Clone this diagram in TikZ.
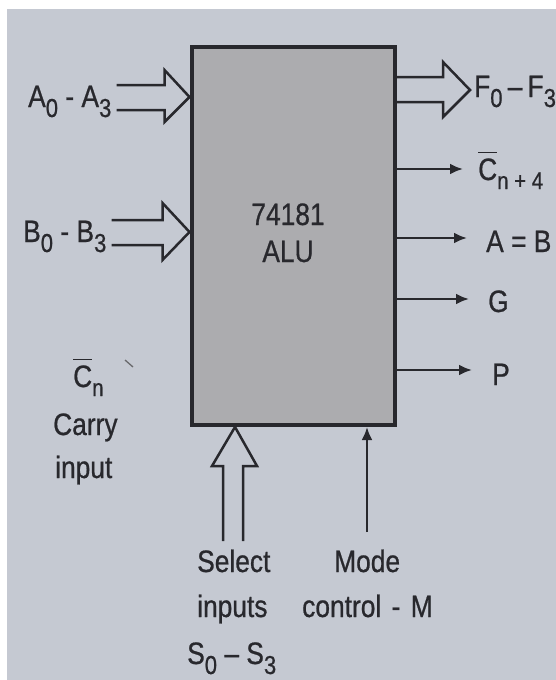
\documentclass[tikz,border=0pt]{standalone}
\usepackage{fontspec}
\setmainfont{Liberation Sans}[FakeStretch=0.85,FakeBold=0.7]
\usetikzlibrary{arrows.meta,calc}
\definecolor{bg}{RGB}{197,201,210}
\definecolor{boxgray}{RGB}{172,172,175}
\definecolor{ink}{RGB}{40,40,45}
\newcommand\sbs[1]{\raisebox{-10pt}{\fontsize{26}{26}\selectfont #1}}
\newcommand\sbsm[1]{\raisebox{-9pt}{\fontsize{24}{24}\selectfont #1}}
\newcommand\obar[1]{\vbox{\hrule height 1.8pt\kern 5pt\hbox{#1}}}
\begin{document}
\begin{tikzpicture}[x=1pt,y=-1pt,
  font=\fontsize{31}{36}\selectfont,
  lbl/.style={inner sep=0pt, anchor=base west, text=ink},
  clbl/.style={inner sep=0pt, anchor=base, text=ink},
  alubox/.style={draw=ink, line width=4pt, fill=boxgray, inner sep=0pt,
    minimum width=203pt, minimum height=378pt},
  hollow/.style={draw=ink, line width=2.5pt, line join=miter},
  sarrow/.style={draw=ink, line width=2.5pt, -{Latex[length=13pt,width=11pt]}}]
\useasboundingbox (0,0) rectangle (556,680);
\fill[white] (0,0) rectangle (556,680);
\fill[bg] (7,9) rectangle (556,680);

% ALU box
\node[alubox] (alu) at (293,236) {};
\node[clbl] (num) at (288,225) {74181};
\node[clbl] (name) at (288,262) {ALU};

% A input (hollow bus arrow)
\coordinate (ain) at (alu.west |- 0,97);
\draw[hollow] (ain) ++(-73,-12) -- ++(48,0) -- ++(0,-15) -- (ain) -- ++(-25,25) -- ++(0,-12) -- ++(-48,0);
\node[lbl] (alab) at (28,107) {A\sbs{0} - A\sbs{3}};

% B input
\coordinate (bin) at (alu.west |- 0,232);
\draw[hollow] (bin) ++(-78,-12) -- ++(51,0) -- ++(0,-17) -- (bin) -- ++(-27,28) -- ++(0,-15) -- ++(-51,0);
\node[lbl] (blab) at (23,242) {B\sbs{0} - B\sbs{3}};

% F output
\coordinate (fo1) at (alu.east |- 0,77);
\coordinate (fo2) at (alu.east |- 0,102);
\coordinate (ftip) at (470,90);
\draw[hollow] (fo1) -- (443,77) -- (443,62) -- (ftip) -- (443,117) -- (443,102) -- (fo2);
\node[lbl] (flab) at (474,97) {F\sbs{0}\,–\,F\sbs{3}};

% single outputs
\coordinate (c4) at (463,169);
\coordinate (ab) at (467,238);
\coordinate (g) at (469,299);
\coordinate (p) at (472,370);
\draw[sarrow] (alu.east |- c4) -- (c4);
\draw[sarrow] (alu.east |- ab) -- (ab);
\draw[sarrow] (alu.east |- g) -- (g);
\draw[sarrow] (alu.east |- p) -- (p);
\node[lbl] (c4lab) at (478,180) {\obar{C}\sbsm{n + 4}};
\node[lbl] (ablab) at (486,252) {A = B};
\node[lbl] (glab) at (488,312) {G};
\node[lbl] (plab) at (492,385) {P};

% carry input labels
\node[lbl] (cnlab) at (73,387) {\obar{C}\sbsm{n}};
\node[lbl] (carry) at (53,435) {Carry};
\node[lbl] (inp) at (55,478) {input};
\draw[ink!70, line width=1.3pt] (125,360) -- (133,367);

% select inputs (hollow bus arrow, upward)
\coordinate (sin) at (alu.south -| 235,0);
\draw[hollow] (sin) ++(-12,114) -- ++(0,-75) -- ++(-11,0) -- (sin) -- ++(22,39) -- ++(-14,0) -- ++(0,75);
\node[lbl] (sel) at (197,572) {Select};
\node[lbl] (seli) at (197,617) {inputs};
\node[lbl] (ss) at (187,664) {S\sbs{0} – S\sbs{3}};

% mode control
\coordinate (mbot) at (367,532);
\coordinate (min) at (alu.south -| mbot);
\draw[sarrow] (mbot) -- (min);
\node[lbl] (mode) at (334,572) {Mode};
\node[lbl] (ctrl) at (302,617) {control\,\,-\,\,M};
\end{tikzpicture}
\end{document}
